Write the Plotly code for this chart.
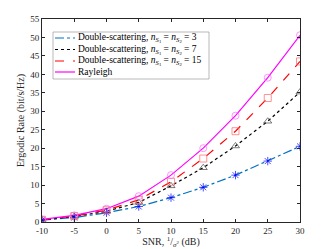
import plotly.graph_objects as go

snr = [-10, -5, 0, 5, 10, 15, 20, 25, 30]
snr_ticks = [-10, -5, 0, 5, 10, 15, 20, 25, 30]
snr_tick_labels = ["-10", "-5", "0", "5", "10", "15", "20", "25", "30"]
rate_ticks = [0, 5, 10, 15, 20, 25, 30, 35, 40, 45, 50, 55]
rate_ds3 = [0.5, 1.2, 2.5, 4.2, 6.6, 9.4, 12.7, 16.5, 20.5]
rate_ds7 = [0.55, 1.5, 2.9, 5.3, 9.8, 14.7, 20.6, 27.3, 35.2]
rate_ds15 = [0.6, 1.6, 3.2, 6.0, 10.9, 17.2, 24.6, 33.6, 43.5]
rate_ray = [0.7, 1.8, 3.6, 7.0, 12.7, 20.0, 28.8, 39.1, 50.6]

names = [
    "Double-scattering, <i>n</i><sub><i>S</i><sub>1</sub></sub> = <i>n</i><sub><i>S</i><sub>2</sub></sub> = 3",
    "Double-scattering, <i>n</i><sub><i>S</i><sub>1</sub></sub> = <i>n</i><sub><i>S</i><sub>2</sub></sub> = 7",
    "Double-scattering, <i>n</i><sub><i>S</i><sub>1</sub></sub> = <i>n</i><sub><i>S</i><sub>2</sub></sub> = 15",
    "Rayleigh",
]
series = [rate_ds3, rate_ds7, rate_ds15, rate_ray]
line_colors = ["#0072BD", "#000000", "#FF0000", "#FF00FF"]
line_dash = ["dashdot", "dot", "dash", "solid"]
marker_sym = ["asterisk-open", "triangle-up-open", "square-open", "circle-open"]
marker_colors = ["#0000FF", "#444444", "#FF6666", "#FF66FF"]

SERIF = "Times New Roman, Liberation Serif, serif"

fig = go.Figure()
for ys, nm, lc, ld in zip(series, names, line_colors, line_dash):
    fig.add_trace(go.Scatter(x=snr, y=ys, mode="lines", name=nm,
                             line=dict(color=lc, dash=ld, width=1.2)))
for ys, ms, mc in zip(series, marker_sym, marker_colors):
    fig.add_trace(go.Scatter(x=snr, y=ys, mode="markers", showlegend=False,
                             marker=dict(symbol=ms, size=7, color=mc,
                                         line=dict(color=mc, width=0.7))))

axis_common = dict(showline=True, linecolor="#262626", linewidth=0.8, mirror="ticks",
                   ticks="inside", ticklen=3, tickcolor="#262626", showgrid=False,
                   zeroline=False, automargin=False,
                   tickfont=dict(family=SERIF, size=9, color="#262626"))

fig.update_xaxes(range=[-10, 30], tickvals=snr_ticks, ticktext=snr_tick_labels,
                 title=dict(text="SNR, <sup>1</sup>/<sub><i>σ</i><sup>2</sup></sub> (dB)",
                            font=dict(family=SERIF, size=10, color="#262626"),
                            standoff=2),
                 **axis_common)
fig.update_yaxes(range=[0, 55], tickvals=rate_ticks,
                 title=dict(text="Ergodic Rate (bit/s/Hz)",
                            font=dict(family=SERIF, size=10, color="#262626"),
                            standoff=3),
                 **axis_common)

# Compact legend box drawn as shapes + annotations (plotly legend rows are too tall)
L, T, PW, PH = 42, 19, 258, 203
def px_x(p):
    return (p - L) / PW
def px_y(p):
    return (T + PH - p) / PH

fig.add_shape(type="rect", xref="paper", yref="paper",
              x0=px_x(53), x1=px_x(209), y0=px_y(79), y1=px_y(32),
              fillcolor="white", line=dict(color="#8c8c8c", width=0.6), layer="above")
row_y = [38, 49.5, 61, 72]
for nm, lc, ld, ry in zip(names, line_colors, line_dash, row_y):
    fig.add_shape(type="line", xref="paper", yref="paper",
                  x0=px_x(55), x1=px_x(75), y0=px_y(ry), y1=px_y(ry),
                  line=dict(color=lc, dash=ld, width=1.2), layer="above")
    fig.add_annotation(xref="paper", yref="paper", x=px_x(76), y=px_y(ry),
                       xanchor="left", yanchor="middle", text=nm, showarrow=False,
                       font=dict(family=SERIF, size=9.5, color="#000000"))

fig.update_layout(
    width=332, height=249,
    margin=dict(l=42, r=32, t=19, b=27),
    paper_bgcolor="white", plot_bgcolor="white",
    font=dict(family=SERIF, size=9, color="#000000"),
    showlegend=False,
)

fig.write_html("out.html", config={"displayModeBar": False},
               post_script="document.body.style.margin='0';")
